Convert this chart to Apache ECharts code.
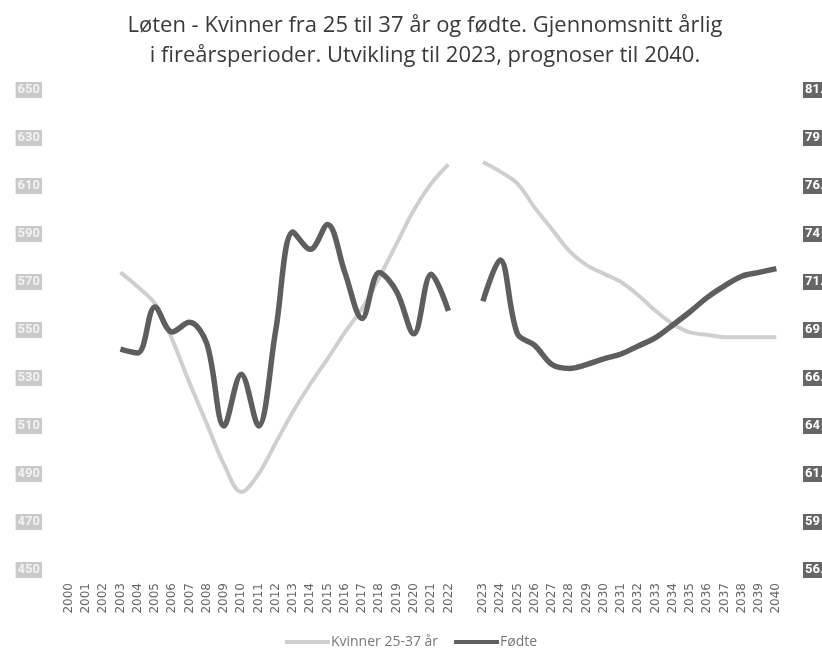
<!DOCTYPE html>
<html>
<head>
<meta charset="utf-8">
<script src="https://cdn.jsdelivr.net/npm/echarts@6/dist/echarts.min.js"></script>
<style>
html,body{margin:0;padding:0;background:#fff;overflow:hidden;}
#chart{width:822px;height:654px;}
</style>
</head>
<body>
<div id="chart"></div>
<script>
var titleText = 'Løten - Kvinner fra 25 til 37 år og fødte. Gjennomsnitt årlig\ni fireårsperioder. Utvikling til 2023, prognoser til 2040.';
var years = ['2000','2001','2002','2003','2004','2005','2006','2007','2008','2009','2010','2011','2012','2013','2014','2015','2016','2017','2018','2019','2020','2021','2022','',
  '2023','2024','2025','2026','2027','2028','2029','2030','2031','2032','2033','2034','2035','2036','2037','2038','2039','2040'];
var kvinner = [null,null,null,574,568,561,546,528,511,494,482.5,490,503,516,527.5,538,549,559,572,586,600,611,619,null,
  620,616,611,601,592,583,577,573.5,570,564.5,558,552.5,549,548,547,547,547,547];
var fodte = [null,null,null,68.0,67.8,70.2,68.9,69.4,68.3,64.0,66.7,64.0,69.0,74.1,73.2,74.5,72.0,69.6,72.0,71.0,68.8,71.9,70.0,null,
  70.5,72.65,68.8,68.2,67.2,67.0,67.2,67.5,67.75,68.17,68.6,69.26,69.95,70.7,71.3,71.8,72.0,72.2];
var seriesNames = ['Kvinner 25-37 år','Fødte'];

var chart = echarts.init(document.getElementById('chart'));
chart.setOption({
  animation: false,
  backgroundColor: '#ffffff',
  title: {
    text: titleText,
    left: 420, textAlign: 'center',
    top: 6,
    textStyle: {fontFamily: 'Open Sans', fontSize: 22, fontWeight: 'normal', color: '#3a3a3a', lineHeight: 30}
  },
  legend: {
    bottom: 0, left: 'center',
    itemWidth: 45, itemHeight: 4, itemGap: 16,
    textStyle: {fontFamily: 'Open Sans', fontSize: 14, color: '#777', padding: [0, 0, 0, -4]},
    data: [
      {name: seriesNames[0], icon: 'rect', itemStyle: {color: '#cfcfcf'}},
      {name: seriesNames[1], icon: 'rect', itemStyle: {color: '#606060'}}
    ]
  },
  grid: {left: 60, right: 37, top: 90, bottom: 84, outerBoundsMode: 'none', containLabel: false},
  xAxis: {
    type: 'category', data: years, boundaryGap: true,
    axisLine: {show: false}, axisTick: {show: false},
    axisLabel: {interval: 0, rotate: 90, margin: 13, fontFamily: 'DejaVu Sans', fontSize: 12, color: '#666'}
  },
  yAxis: [
    {
      type: 'value', min: 450, max: 650, interval: 20,
      axisLine: {show: false}, axisTick: {show: false}, splitLine: {show: false},
      axisLabel: {margin: 18, fontFamily: 'Roboto', fontWeight: 'bold', fontSize: 13, color: '#f2f2f2',
        backgroundColor: '#c9c9c9', padding: [2, 2, 1, 2]}
    },
    {
      type: 'value', min: 56.5, max: 81.5, interval: 2.5, position: 'right',
      axisLine: {show: false}, axisTick: {show: false}, splitLine: {show: false},
      axisLabel: {margin: 18, fontFamily: 'Roboto', fontWeight: 'bold', fontSize: 13, color: '#ffffff',
        backgroundColor: '#666666', padding: [2, 2, 1, 2]}
    }
  ],
  series: [
    {
      name: seriesNames[0], type: 'line', yAxisIndex: 0, data: kvinner,
      smooth: 0.35, showSymbol: false, connectNulls: false,
      lineStyle: {color: '#cfcfcf', width: 4}, itemStyle: {color: '#cfcfcf'}
    },
    {
      name: seriesNames[1], type: 'line', yAxisIndex: 1, data: fodte,
      smooth: 0.35, showSymbol: false, connectNulls: false,
      lineStyle: {color: '#5e5e5e', width: 5.5}, itemStyle: {color: '#606060'}
    }
  ]
});
</script>
</body>
</html>
